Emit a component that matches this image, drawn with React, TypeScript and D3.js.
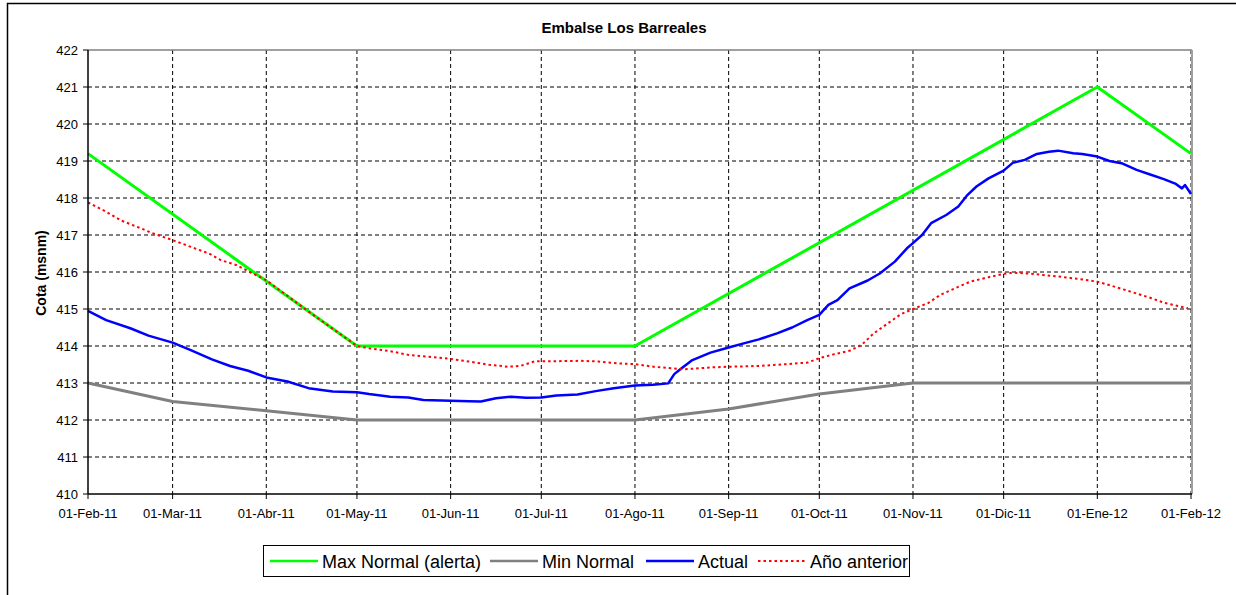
import React from "react";
import * as d3 from "d3";

type Pt = [string, number];

// series (date, cota msnm)
const maxNormal: Pt[] = [
  ["2011-02-01", 419.2],
  ["2011-05-01", 414.0],
  ["2011-08-01", 414.0],
  ["2012-01-01", 421.0],
  ["2012-02-01", 419.2],
];

const minNormal: Pt[] = [
  ["2011-02-01", 413.0],
  ["2011-03-01", 412.5],
  ["2011-04-01", 412.25],
  ["2011-05-01", 412.0],
  ["2011-08-01", 412.0],
  ["2011-09-01", 412.3],
  ["2011-10-01", 412.7],
  ["2011-11-01", 413.0],
  ["2012-02-01", 413.0],
];

const actual: Pt[] = [
  ["2011-02-01", 414.95], ["2011-02-07", 414.7], ["2011-02-15", 414.48], ["2011-02-21", 414.28],
  ["2011-03-01", 414.09], ["2011-03-07", 413.89], ["2011-03-14", 413.64], ["2011-03-20", 413.46],
  ["2011-03-26", 413.33], ["2011-04-01", 413.15], ["2011-04-08", 413.04], ["2011-04-15", 412.86],
  ["2011-04-23", 412.77], ["2011-05-01", 412.75], ["2011-05-05", 412.7], ["2011-05-12", 412.63],
  ["2011-05-18", 412.61], ["2011-05-23", 412.54], ["2011-06-01", 412.52], ["2011-06-07", 412.51],
  ["2011-06-11", 412.5], ["2011-06-16", 412.59], ["2011-06-21", 412.63], ["2011-06-26", 412.6],
  ["2011-07-01", 412.61], ["2011-07-06", 412.66], ["2011-07-13", 412.69], ["2011-07-19", 412.78],
  ["2011-07-25", 412.86], ["2011-08-01", 412.93], ["2011-08-07", 412.95], ["2011-08-12", 412.99],
  ["2011-08-14", 413.24], ["2011-08-16", 413.37], ["2011-08-20", 413.62], ["2011-08-26", 413.82],
  ["2011-09-01", 413.96], ["2011-09-06", 414.07], ["2011-09-11", 414.18], ["2011-09-17", 414.34],
  ["2011-09-22", 414.5], ["2011-09-27", 414.7], ["2011-10-01", 414.84], ["2011-10-04", 415.11],
  ["2011-10-07", 415.24], ["2011-10-11", 415.56], ["2011-10-17", 415.77], ["2011-10-21", 415.96],
  ["2011-10-26", 416.28], ["2011-10-30", 416.64], ["2011-11-01", 416.78], ["2011-11-04", 417.0],
  ["2011-11-07", 417.32], ["2011-11-12", 417.54], ["2011-11-16", 417.77], ["2011-11-19", 418.08],
  ["2011-11-22", 418.31], ["2011-11-26", 418.53], ["2011-12-01", 418.74], ["2011-12-04", 418.95],
  ["2011-12-08", 419.03], ["2011-12-12", 419.19], ["2011-12-16", 419.25], ["2011-12-19", 419.28],
  ["2011-12-24", 419.21], ["2011-12-27", 419.19], ["2012-01-01", 419.12], ["2012-01-05", 419.0],
  ["2012-01-09", 418.94], ["2012-01-14", 418.76], ["2012-01-18", 418.65], ["2012-01-23", 418.51],
  ["2012-01-27", 418.38], ["2012-01-29", 418.26], ["2012-01-30", 418.35], ["2012-02-01", 418.11],
];

const anioAnterior: Pt[] = [
  ["2011-02-01", 417.88], ["2011-02-07", 417.63], ["2011-02-12", 417.39], ["2011-02-17", 417.23],
  ["2011-02-22", 417.06], ["2011-03-01", 416.86], ["2011-03-07", 416.68], ["2011-03-13", 416.5],
  ["2011-03-17", 416.32], ["2011-03-22", 416.19], ["2011-03-27", 415.98], ["2011-04-01", 415.78],
  ["2011-04-15", 414.93], ["2011-05-01", 414.0], ["2011-05-05", 413.94], ["2011-05-12", 413.86],
  ["2011-05-18", 413.76], ["2011-05-25", 413.71], ["2011-06-01", 413.65], ["2011-06-07", 413.58],
  ["2011-06-14", 413.49], ["2011-06-20", 413.44], ["2011-06-24", 413.46], ["2011-06-29", 413.59],
  ["2011-07-06", 413.59], ["2011-07-14", 413.6], ["2011-07-20", 413.58], ["2011-07-26", 413.53],
  ["2011-08-01", 413.51], ["2011-08-07", 413.44], ["2011-08-17", 413.37], ["2011-08-26", 413.42],
  ["2011-09-01", 413.44], ["2011-09-11", 413.46], ["2011-09-20", 413.51], ["2011-09-27", 413.55],
  ["2011-10-01", 413.67], ["2011-10-06", 413.78], ["2011-10-11", 413.87], ["2011-10-15", 414.03],
  ["2011-10-19", 414.34], ["2011-10-24", 414.63], ["2011-10-28", 414.86], ["2011-11-01", 415.0],
  ["2011-11-06", 415.16], ["2011-11-10", 415.38], ["2011-11-16", 415.6], ["2011-11-20", 415.74],
  ["2011-11-26", 415.86], ["2011-12-01", 415.95], ["2011-12-04", 415.98], ["2011-12-09", 415.96],
  ["2011-12-14", 415.92], ["2011-12-20", 415.87], ["2011-12-26", 415.81], ["2012-01-01", 415.74],
  ["2012-01-06", 415.62], ["2012-01-12", 415.47], ["2012-01-19", 415.29], ["2012-01-23", 415.17],
  ["2012-01-31", 415.02],
];

const monthTicks = [
  "2011-02-01", "2011-03-01", "2011-04-01", "2011-05-01", "2011-06-01", "2011-07-01", "2011-08-01",
  "2011-09-01", "2011-10-01", "2011-11-01", "2011-12-01", "2012-01-01", "2012-02-01",
];
const monthLabels = [
  "01-Feb-11", "01-Mar-11", "01-Abr-11", "01-May-11", "01-Jun-11", "01-Jul-11", "01-Ago-11",
  "01-Sep-11", "01-Oct-11", "01-Nov-11", "01-Dic-11", "01-Ene-12", "01-Feb-12",
];
const yTicks = [410, 411, 412, 413, 414, 415, 416, 417, 418, 419, 420, 421, 422];

const series = [
  { name: "Max Normal (alerta)", data: maxNormal, color: "#00ff00", width: 3, dash: "" },
  { name: "Min Normal", data: minNormal, color: "#808080", width: 3, dash: "" },
  { name: "Actual", data: actual, color: "#0000ff", width: 2.5, dash: "" },
  { name: "Año anterior", data: anioAnterior, color: "#ff0000", width: 2, dash: "2.5 3" },
];

const FONT = "'Liberation Sans', Arial, sans-serif";

export default function App() {
  const W = 1236;
  const H = 595;
  const left = 88, right = 1191, top = 50, bottom = 494;
  const parse = d3.utcParse("%Y-%m-%d");

  const x = d3
    .scaleUtc()
    .domain([parse("2011-02-01")!, parse("2012-02-01")!])
    .range([left, right]);
  const y = d3.scaleLinear().domain([410, 422]).range([bottom, top]);

  const line = d3
    .line<Pt>()
    .x((d) => x(parse(d[0])!))
    .y((d) => y(d[1]));

  // legend layout (x of line sample start, text start)
  const legendItems = [
    { lx: 270, tx: 322 },
    { lx: 490, tx: 542 },
    { lx: 646, tx: 698 },
    { lx: 758, tx: 810 },
  ];

  return (
    <svg
      width={W}
      height={H}
      style={{ position: "absolute", left: 0, top: 0, background: "#fff" }}
      fontFamily={FONT}
    >
      <rect x={7.5} y={3.5} width={1240} height={600} fill="#fff" stroke="#000" strokeWidth={1.5} />

      <text x={624} y={33} textAnchor="middle" fontSize={15} fontWeight="bold">
        Embalse Los Barreales
      </text>

      {/* grid */}
      {yTicks.slice(1, -1).map((v) => (
        <line
          key={"h" + v}
          x1={left}
          x2={right}
          y1={y(v)}
          y2={y(v)}
          stroke="#000"
          strokeWidth={1}
          strokeDasharray="4 3"
        />
      ))}
      {monthTicks.slice(1).map((m) => (
        <line
          key={"v" + m}
          x1={x(parse(m)!)}
          x2={x(parse(m)!)}
          y1={top}
          y2={bottom}
          stroke="#000"
          strokeWidth={1}
          strokeDasharray="4 3"
        />
      ))}
      <line x1={left} x2={right + 1} y1={top} y2={top} stroke="#808080" strokeWidth={1.5} />
      <line x1={right + 1} x2={right + 1} y1={top} y2={bottom} stroke="#a0a0a0" strokeWidth={2} />

      {/* series */}
      {series.map((s) => (
        <path
          key={s.name}
          d={line(s.data) || ""}
          fill="none"
          stroke={s.color}
          strokeWidth={s.width}
          strokeDasharray={s.dash || undefined}
          strokeLinejoin="round"
        />
      ))}

      {/* axes */}
      <line x1={left} x2={left} y1={top} y2={bottom} stroke="#000" strokeWidth={1.5} />
      <line x1={left} x2={right + 1} y1={bottom} y2={bottom} stroke="#000" strokeWidth={1.5} />
      {yTicks.map((v) => (
        <g key={"yt" + v}>
          <line x1={left - 5} x2={left} y1={y(v)} y2={y(v)} stroke="#000" strokeWidth={1} />
          <text x={78} y={y(v)} dy="0.36em" textAnchor="end" fontSize={13}>
            {v}
          </text>
        </g>
      ))}
      {monthTicks.map((m, i) => (
        <g key={"xt" + m}>
          <line
            x1={x(parse(m)!)}
            x2={x(parse(m)!)}
            y1={bottom}
            y2={bottom + 5}
            stroke="#000"
            strokeWidth={1}
          />
          <text x={x(parse(m)!)} y={518} textAnchor="middle" fontSize={13}>
            {monthLabels[i]}
          </text>
        </g>
      ))}

      <text
        transform={`translate(46, 273) rotate(-90)`}
        textAnchor="middle"
        fontSize={14}
        fontWeight="bold"
      >
        Cota (msnm)
      </text>

      {/* legend */}
      <rect x={263.5} y={545.5} width={646} height={31} fill="#fff" stroke="#000" strokeWidth={1} />
      {series.map((s, i) => (
        <g key={"lg" + s.name}>
          <line
            x1={legendItems[i].lx}
            x2={legendItems[i].lx + 48}
            y1={561}
            y2={561}
            stroke={s.color}
            strokeWidth={s.width === 2 ? 2 : 2.5}
            strokeDasharray={s.dash || undefined}
          />
          <text x={legendItems[i].tx} y={568} fontSize={18}>
            {s.name}
          </text>
        </g>
      ))}
    </svg>
  );
}
